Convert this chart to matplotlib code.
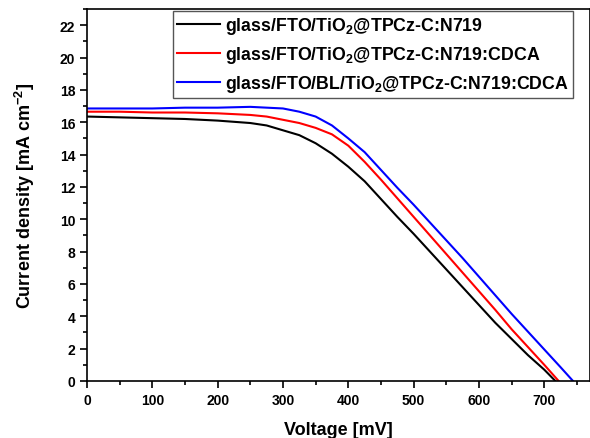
import matplotlib
matplotlib.use("Agg")
import matplotlib.pyplot as plt
from matplotlib.ticker import MultipleLocator

plt.rcParams['font.family'] = ['Liberation Sans', 'DejaVu Sans']
plt.rcParams['mathtext.fontset'] = 'custom'
plt.rcParams['mathtext.rm'] = 'Liberation Sans'
plt.rcParams['mathtext.bf'] = 'Liberation Sans:bold'

# curva J-V: glass/FTO/TiO2@TPCz-C:N719
v_preto = [0, 50, 100, 150, 200, 250, 275, 300, 325, 350, 375, 400, 425, 450,
           475, 500, 525, 550, 575, 600, 625, 650, 675, 700, 717]
j_preto = [16.35, 16.3, 16.25, 16.2, 16.1, 15.95, 15.8, 15.5, 15.2, 14.7, 14.05,
           13.25, 12.35, 11.25, 10.15, 9.1, 8.0, 6.9, 5.8, 4.7, 3.6, 2.6, 1.6, 0.7, 0]

# glass/FTO/TiO2@TPCz-C:N719:CDCA
v_verm = [0, 50, 100, 150, 200, 250, 275, 300, 325, 350, 375, 400, 425, 450,
          475, 500, 525, 550, 575, 600, 625, 650, 675, 700, 722]
j_verm = [16.65, 16.65, 16.6, 16.6, 16.55, 16.45, 16.35, 16.15, 15.95, 15.65, 15.25,
          14.55, 13.55, 12.45, 11.3, 10.15, 9.0, 7.85, 6.7, 5.55, 4.4, 3.2, 2.1, 1.0, 0]

# glass/FTO/BL/TiO2@TPCz-C:N719:CDCA
v_azul = [0, 50, 100, 150, 200, 250, 275, 300, 325, 350, 375, 400, 425, 450,
          475, 500, 525, 550, 575, 600, 625, 650, 675, 700, 725, 744]
j_azul = [16.85, 16.85, 16.85, 16.9, 16.9, 16.95, 16.9, 16.85, 16.65, 16.35, 15.8,
          15.0, 14.15, 13.05, 11.95, 10.9, 9.8, 8.7, 7.6, 6.45, 5.3, 4.15, 3.05, 1.95, 0.85, 0]

rotulos = [r'glass/FTO/TiO$_\mathbf{2}$@TPCz-C:N719',
           r'glass/FTO/TiO$_\mathbf{2}$@TPCz-C:N719:CDCA',
           r'glass/FTO/BL/TiO$_\mathbf{2}$@TPCz-C:N719:CDCA']

fig = plt.figure(figsize=(5.9, 4.39), dpi=100)
ax = fig.add_axes([87 / 590, 57 / 439, 503 / 590, 372 / 439])

ax.plot(v_preto, j_preto, color='black', lw=1.5, label=rotulos[0])
ax.plot(v_verm, j_verm, color='red', lw=1.5, label=rotulos[1])
ax.plot(v_azul, j_azul, color='blue', lw=1.5, label=rotulos[2])

ax.set_xlim(0, 770)
ax.set_ylim(0, 23)
ax.xaxis.set_major_locator(MultipleLocator(100))
ax.xaxis.set_minor_locator(MultipleLocator(50))
ax.yaxis.set_major_locator(MultipleLocator(2))
ax.yaxis.set_minor_locator(MultipleLocator(1))
ax.tick_params(which='both', direction='out', width=1.2, labelsize=10)
ax.tick_params(which='major', length=5)
ax.tick_params(which='minor', length=3)
for lbl in ax.get_xticklabels() + ax.get_yticklabels():
    lbl.set_fontweight('bold')
for s in ax.spines.values():
    s.set_linewidth(1.2)

ax.set_xlabel('Voltage [mV]', fontsize=13, fontweight='bold', labelpad=10)
ax.set_ylabel(r'Current density [mA cm$^\mathbf{-2}$]', fontsize=13,
              fontweight='bold', labelpad=16)

leg = ax.legend(loc='upper left', bbox_to_anchor=(173 / 590, 1 - 12 / 439),
                bbox_transform=fig.transFigure, prop={'weight': 'bold', 'size': 12.8},
                handlelength=2.4, handletextpad=0.3, borderpad=0.23,
                borderaxespad=0, labelspacing=0.45, fancybox=False, framealpha=1)
leg.get_frame().set_edgecolor('#555555')
leg.get_frame().set_linewidth(1.0)

fig.savefig('out.png', dpi=100)
